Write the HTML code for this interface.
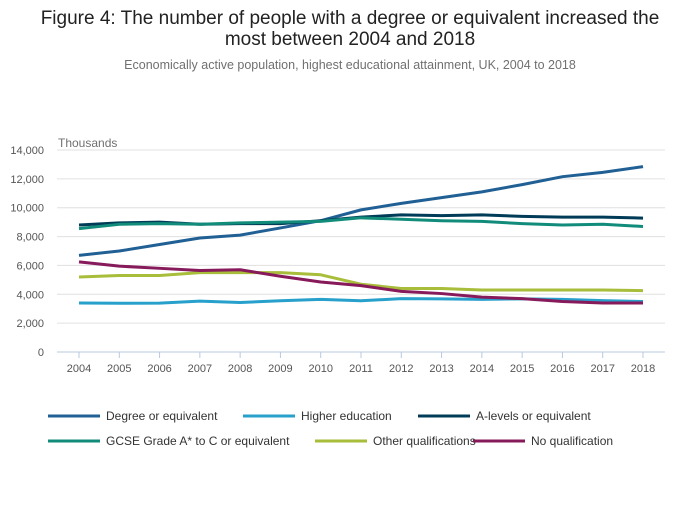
<!DOCTYPE html>
<html><head><meta charset="utf-8"><style>
body{margin:0;background:#fff;font-family:"Liberation Sans",sans-serif;}
</style></head><body>
<svg id="c" width="700" height="502" xmlns="http://www.w3.org/2000/svg">
<text x="350" y="24" text-anchor="middle" font-size="19" fill="#222">Figure 4: The number of people with a degree or equivalent increased the</text>
<text x="350" y="45" text-anchor="middle" font-size="19" fill="#222">most between 2004 and 2018</text>
<text x="350" y="69" text-anchor="middle" font-size="12.5" fill="#707070">Economically active population, highest educational attainment, UK, 2004 to 2018</text>
<text x="58" y="147" font-size="12" fill="#707070">Thousands</text>
<g id="grid"></g><g id="lines"></g><g id="legend"></g>
</svg>
<script>
const years=[2004,2005,2006,2007,2008,2009,2010,2011,2012,2013,2014,2015,2016,2017,2018];
const yTicks=[0,2000,4000,6000,8000,10000,12000,14000];
const names=["Degree or equivalent","Higher education","A-levels or equivalent","GCSE Grade A* to C or equivalent","Other qualifications","No qualification"];
const degree=[6700,7000,7450,7900,8100,8600,9100,9850,10300,10700,11100,11600,12150,12450,12850];
const higher=[3400,3380,3390,3530,3430,3550,3650,3550,3700,3680,3650,3680,3650,3560,3500];
const alevels=[8800,8950,9000,8850,8900,8900,9100,9350,9500,9450,9500,9400,9350,9350,9280];
const gcse=[8550,8850,8900,8850,8950,9000,9050,9300,9200,9100,9050,8900,8800,8850,8700];
const other=[5200,5300,5300,5500,5500,5500,5350,4700,4400,4400,4300,4300,4300,4300,4250];
const noqual=[6250,5950,5800,5650,5700,5250,4850,4600,4200,4050,3800,3700,3500,3400,3400];
const colors=["#206095","#27a0cc","#003c57","#118c7b","#a8bd3a","#871a5b"];
const series=[degree,higher,alevels,gcse,other,noqual];
const NS="http://www.w3.org/2000/svg";
const x0=57,x1=665,y0=352,y1=150;
const xs=i=>79+(643-79)*i/(years.length-1);
const ys=v=>y0-(y0-y1)*v/14000;
function mk(t,a,p){const e=document.createElementNS(NS,t);for(const k in a)e.setAttribute(k,a[k]);p.appendChild(e);return e;}
const grid=document.getElementById('grid');
yTicks.forEach(v=>{
 const l=mk('line',{x1:x0,x2:x1,y1:ys(v),y2:ys(v),stroke:v===0?'#b8c9e0':'#e0e0e0','stroke-width':1},grid);
 
 
 const t=mk('text',{x:44,y:ys(v)+4,'text-anchor':'end','font-size':11,fill:'#555'},grid);
 t.textContent=v.toLocaleString('en-US');
 
 
});
years.forEach((yr,i)=>{
 const l=mk('line',{x1:xs(i),x2:xs(i),y1:y0,y2:y0+6,stroke:'#b8c9e0'},grid);
 
 
 const t=mk('text',{x:xs(i),y:y0+20,'text-anchor':'middle','font-size':11,fill:'#555'},grid);
 t.textContent=yr;
 
 
});
const lines=document.getElementById('lines');
series.forEach((s,k)=>{
 const p=mk('polyline',{points:s.map((v,i)=>xs(i)+','+ys(v)).join(' '),fill:'none',stroke:colors[k],'stroke-width':3,'stroke-linejoin':'round'},lines);
 
 
});
const leg=document.getElementById('legend');
const lx=[48,243,418,48,315,473];
names.forEach((n,k)=>{
 const x=lx[k],y=k<3?416:441;
 const l=mk('line',{x1:x,x2:x+52,y1:y,y2:y,stroke:colors[k],'stroke-width':3},leg);
 
 
 const t=mk('text',{x:x+58,y:y+4,'font-size':12,fill:'#333'},leg);
 t.textContent=n;
 
 
});
</script>
</body></html>
